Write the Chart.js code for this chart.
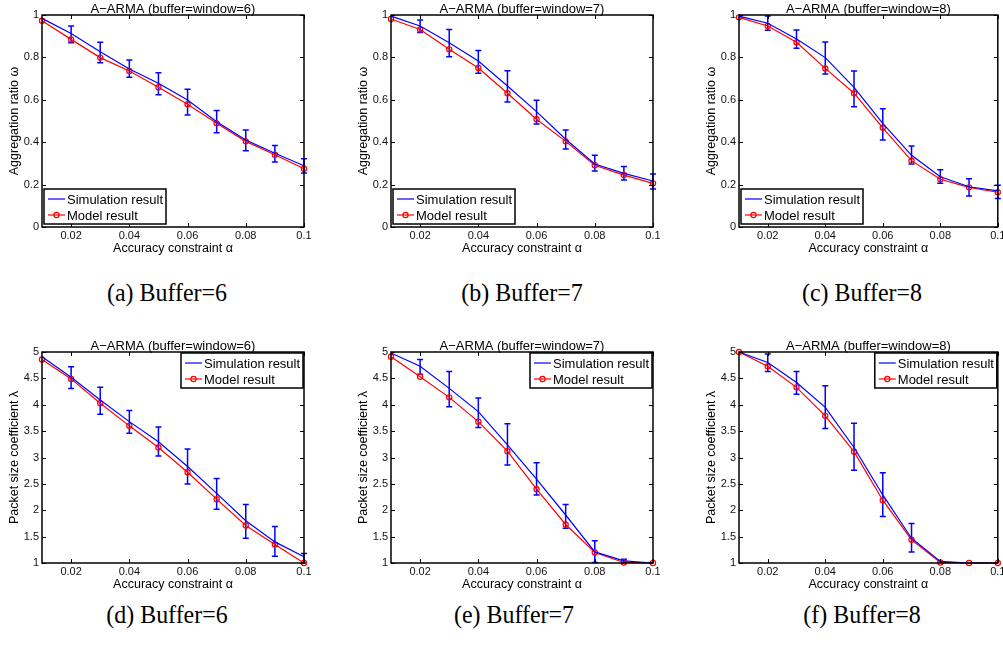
<!DOCTYPE html>
<html>
<head>
<meta charset="utf-8">
<script src="https://cdn.jsdelivr.net/npm/chart.js@4.4.0/dist/chart.umd.min.js"></script>
<style>
body{margin:0;background:#fff;width:1003px;height:648px;overflow:hidden;position:relative}
canvas{position:absolute}
.cap{position:absolute;font-family:"Liberation Serif",serif;font-size:26px;color:#000;white-space:nowrap;transform:translate(-50%,-50%) scaleX(0.92)}
</style>
</head>
<body>
<canvas id="c0"></canvas><canvas id="c1"></canvas><canvas id="c2"></canvas>
<canvas id="c3"></canvas><canvas id="c4"></canvas><canvas id="c5"></canvas>
<div class="cap" style="left:167px;top:293px">(a) Buffer=6</div>
<div class="cap" style="left:522px;top:293px">(b) Buffer=7</div>
<div class="cap" style="left:862px;top:293px">(c) Buffer=8</div>
<div class="cap" style="left:167px;top:615px">(d) Buffer=6</div>
<div class="cap" style="left:514px;top:615px">(e) Buffer=7</div>
<div class="cap" style="left:862px;top:615px">(f) Buffer=8</div>
<script>
// accuracy constraint alpha (x axis)
const alphaVals = [0.01, 0.02, 0.03, 0.04, 0.05, 0.06, 0.07, 0.08, 0.09, 0.1];
const xTickVals = [0.02, 0.04, 0.06, 0.08, 0.1];
const omegaTicks = [0, 0.2, 0.4, 0.6, 0.8, 1];
const lambdaTicks = [1, 1.5, 2, 2.5, 3, 3.5, 4, 4.5, 5];

// aggregation ratio omega
const simOmega6 = [0.984, 0.913, 0.827, 0.745, 0.678, 0.599, 0.497, 0.410, 0.348, 0.289];
const modelOmega6 = [0.973, 0.885, 0.799, 0.736, 0.659, 0.579, 0.489, 0.404, 0.341, 0.275];
const hiOmega6 = [null, 0.948, 0.871, 0.788, 0.728, 0.650, 0.549, 0.458, 0.385, 0.322];
const loOmega6 = [null, 0.869, 0.775, 0.706, 0.624, 0.528, 0.445, 0.360, 0.307, 0.255];

const simOmega7 = [0.995, 0.948, 0.869, 0.783, 0.665, 0.544, 0.414, 0.297, 0.253, 0.217];
const modelOmega7 = [0.981, 0.932, 0.838, 0.750, 0.631, 0.508, 0.404, 0.291, 0.245, 0.206];
const hiOmega7 = [null, 0.976, 0.932, 0.832, 0.737, 0.598, 0.458, 0.338, 0.285, 0.250];
const loOmega7 = [null, 0.918, 0.803, 0.725, 0.590, 0.486, 0.368, 0.264, 0.222, 0.179];

const simOmega8 = [0.995, 0.961, 0.887, 0.799, 0.659, 0.489, 0.338, 0.237, 0.190, 0.170];
const modelOmega8 = [0.989, 0.948, 0.871, 0.748, 0.631, 0.468, 0.313, 0.225, 0.187, 0.164];
const hiOmega8 = [null, 0.995, 0.929, 0.873, 0.736, 0.558, 0.382, 0.270, 0.228, 0.197];
const loOmega8 = [null, 0.928, 0.843, 0.722, 0.567, 0.410, 0.297, 0.206, 0.146, 0.135];

// packet size coefficient lambda
const simLambda6 = [4.91, 4.52, 4.09, 3.68, 3.30, 2.83, 2.32, 1.80, 1.40, 1.12];
const modelLambda6 = [4.86, 4.49, 4.03, 3.60, 3.19, 2.72, 2.21, 1.71, 1.35, 1.00];
const hiLambda6 = [null, 4.72, 4.33, 3.89, 3.58, 3.16, 2.60, 2.11, 1.69, 1.18];
const loLambda6 = [null, 4.31, 3.82, 3.46, 3.03, 2.50, 2.02, 1.47, 1.13, 1.00];

const simLambda7 = [4.98, 4.73, 4.31, 3.87, 3.24, 2.59, 1.91, 1.21, 1.04, 1.00];
const modelLambda7 = [4.91, 4.53, 4.14, 3.68, 3.12, 2.40, 1.73, 1.20, 1.01, 1.00];
const hiLambda7 = [null, 4.86, 4.63, 4.13, 3.64, 2.90, 2.11, 1.42, 1.07, null];
const loLambda7 = [null, 4.58, 3.96, 3.57, 2.86, 2.29, 1.66, 1.01, 1.00, null];

const simLambda8 = [5.00, 4.80, 4.42, 3.95, 3.19, 2.29, 1.47, 1.03, 1.00, 1.00];
const modelLambda8 = [5.00, 4.73, 4.33, 3.79, 3.11, 2.19, 1.44, 1.01, 1.00, 1.00];
const hiLambda8 = [null, 4.96, 4.63, 4.36, 3.65, 2.71, 1.75, null, null, null];
const loLambda8 = [null, 4.63, 4.20, 3.55, 2.76, 1.88, 1.21, null, null, null];

const FONT = '"Liberation Sans", Arial, sans-serif';

const fmt = v => String(parseFloat(v.toFixed(2)));

// frame, inward ticks, title, axis labels, legend, error bars
const matlabLook = {
  id: 'matlabLook',
  beforeDatasetsDraw(chart, args, o) {
    const ctx = chart.ctx, x = chart.scales.x, y = chart.scales.y;
    ctx.save();
    ctx.strokeStyle = '#0000ff';
    ctx.lineWidth = 1.5;
    alphaVals.forEach((a, i) => {
      if (o.hi[i] == null) return;
      const px = x.getPixelForValue(a);
      const y1 = y.getPixelForValue(o.hi[i]), y2 = y.getPixelForValue(o.lo[i]);
      ctx.beginPath();
      ctx.moveTo(px, y1); ctx.lineTo(px, y2);
      ctx.moveTo(px - 3, y1); ctx.lineTo(px + 3, y1);
      ctx.moveTo(px - 3, y2); ctx.lineTo(px + 3, y2);
      ctx.stroke();
    });
    ctx.restore();
  },
  afterDraw(chart, args, o) {
    const ctx = chart.ctx, a = chart.chartArea, x = chart.scales.x, y = chart.scales.y;
    ctx.save();
    ctx.strokeStyle = '#000';
    ctx.lineWidth = 1;
    ctx.beginPath();
    xTickVals.forEach(v => {
      const px = Math.round(x.getPixelForValue(v)) + 0.5;
      ctx.moveTo(px, a.bottom); ctx.lineTo(px, a.bottom - 4);
      ctx.moveTo(px, a.top); ctx.lineTo(px, a.top + 4);
    });
    o.yTicks.forEach(v => {
      const py = Math.round(y.getPixelForValue(v)) + 0.5;
      ctx.moveTo(a.left, py); ctx.lineTo(a.left + 4, py);
      ctx.moveTo(a.right, py); ctx.lineTo(a.right - 4, py);
    });
    ctx.stroke();
    ctx.lineWidth = 1.5;
    ctx.strokeRect(a.left, a.top, a.right - a.left, a.bottom - a.top);

    ctx.fillStyle = '#000';
    ctx.textAlign = 'center';
    ctx.font = '13px ' + FONT;
    ctx.textBaseline = 'alphabetic';
    ctx.fillText(o.title, (a.left + a.right) / 2, a.top - 2);

    ctx.font = '12.5px ' + FONT;
    ctx.textBaseline = 'middle';
    ctx.fillText('Accuracy constraint \u03b1', (a.left + a.right) / 2, a.bottom + 22);
    ctx.save();
    ctx.translate(a.left - 27, (a.top + a.bottom) / 2);
    ctx.rotate(-Math.PI / 2);
    ctx.fillText(o.yTitle, 0, 0);
    ctx.restore();

    // legend box
    const bw = 122, bh = 35;
    const bx = o.legendTop ? a.right - bw - 1 : a.left + 2;
    const by = o.legendTop ? a.top + 1 : a.bottom - bh - 3;
    ctx.fillStyle = '#fff';
    ctx.fillRect(bx, by, bw, bh);
    ctx.lineWidth = 1.5;
    ctx.strokeStyle = '#000';
    ctx.strokeRect(bx, by, bw, bh);
    const rows = [
      {label: 'Simulation result', color: '#0000ff', marker: false},
      {label: 'Model result', color: '#ff0000', marker: true}
    ];
    ctx.font = '13px ' + FONT;
    ctx.textAlign = 'left';
    rows.forEach((r, i) => {
      const ry = by + 10 + i * 16;
      ctx.strokeStyle = r.color;
      ctx.lineWidth = 1.2;
      ctx.beginPath();
      ctx.moveTo(bx + 4, ry); ctx.lineTo(bx + 21, ry);
      ctx.stroke();
      if (r.marker) {
        ctx.beginPath();
        ctx.arc(bx + 12.5, ry, 2.6, 0, Math.PI * 2);
        ctx.stroke();
      }
      ctx.fillStyle = '#000';
      ctx.fillText(r.label, bx + 23, ry + 1);
    });
    ctx.restore();
  }
};

function makeChart(id, lay, sim, model, hi, lo, yMin, yMax, yTicks, yTitle, title, legendTop) {
  const cv = document.getElementById(id);
  cv.width = lay.w; cv.height = lay.h;
  cv.style.left = lay.left + 'px'; cv.style.top = lay.top + 'px';
  cv.style.width = lay.w + 'px'; cv.style.height = lay.h + 'px';
  return new Chart(cv.getContext('2d'), {
    type: 'line',
    data: {
      datasets: [{
        label: 'Simulation result',
        data: alphaVals.map((a, i) => ({x: a, y: sim[i]})),
        borderColor: '#0000ff',
        borderWidth: 1.2,
        pointRadius: 0,
        tension: 0,
        clip: false
      }, {
        label: 'Model result',
        data: alphaVals.map((a, i) => ({x: a, y: model[i]})),
        borderColor: '#ff0000',
        borderWidth: 1.2,
        pointRadius: 2.6,
        pointBorderWidth: 1.2,
        pointBorderColor: '#ff0000',
        pointBackgroundColor: 'rgba(0,0,0,0)',
        tension: 0,
        clip: false
      }]
    },
    options: {
      responsive: false,
      animation: false,
      devicePixelRatio: 1,
      layout: {padding: {left: 0, top: lay.plotT - lay.top, right: lay.w - (lay.plotR - lay.left), bottom: 0}},
      plugins: {
        legend: {display: false},
        tooltip: {enabled: false},
        matlabLook: {hi, lo, yTicks, yTitle, title, legendTop}
      },
      scales: {
        x: {
          type: 'linear', min: 0.01, max: 0.1,
          grid: {display: false, drawTicks: false}, border: {display: false},
          ticks: {font: {size: 11, family: FONT}, color: '#111', padding: 2, maxRotation: 0, autoSkip: false, callback: v => fmt(v)},
          afterBuildTicks: s => { s.ticks = xTickVals.map(v => ({value: v})); },
          afterFit: s => { s.height = lay.h - (lay.plotB - lay.top); s.paddingLeft = 0; s.paddingRight = 0; }
        },
        y: {
          type: 'linear', min: yMin, max: yMax,
          grid: {display: false, drawTicks: false}, border: {display: false},
          ticks: {font: {size: 11, family: FONT}, color: '#111', padding: 3, autoSkip: false, callback: v => fmt(v)},
          afterBuildTicks: s => { s.ticks = yTicks.map(v => ({value: v})); },
          afterFit: s => { s.width = lay.plotL - lay.left; s.paddingTop = 0; s.paddingBottom = 0; }
        }
      }
    },
    plugins: [matlabLook]
  });
}

const colLay = [
  {left: 0, w: 330, plotL: 42, plotR: 304},
  {left: 330, w: 330, plotL: 391, plotR: 653},
  {left: 660, w: 343, plotL: 739, plotR: 1002}
];
const rowLay = [
  {top: 0, h: 265, plotT: 15, plotB: 227},
  {top: 330, h: 265, plotT: 352, plotB: 563}
];
const lay = (c, r) => Object.assign({}, colLay[c], rowLay[r]);

const omegaLabel = 'Aggregation ratio \u03c9';
const lambdaLabel = 'Packet size coefficient \u03bb';

makeChart('c0', lay(0, 0), simOmega6, modelOmega6, hiOmega6, loOmega6, 0, 1, omegaTicks, omegaLabel, 'A\u2212ARMA (buffer=window=6)', false);
makeChart('c1', lay(1, 0), simOmega7, modelOmega7, hiOmega7, loOmega7, 0, 1, omegaTicks, omegaLabel, 'A\u2212ARMA (buffer=window=7)', false);
makeChart('c2', lay(2, 0), simOmega8, modelOmega8, hiOmega8, loOmega8, 0, 1, omegaTicks, omegaLabel, 'A\u2212ARMA (buffer=window=8)', false);
makeChart('c3', lay(0, 1), simLambda6, modelLambda6, hiLambda6, loLambda6, 1, 5, lambdaTicks, lambdaLabel, 'A\u2212ARMA (buffer=window=6)', true);
makeChart('c4', lay(1, 1), simLambda7, modelLambda7, hiLambda7, loLambda7, 1, 5, lambdaTicks, lambdaLabel, 'A\u2212ARMA (buffer=window=7)', true);
makeChart('c5', lay(2, 1), simLambda8, modelLambda8, hiLambda8, loLambda8, 1, 5, lambdaTicks, lambdaLabel, 'A\u2212ARMA (buffer=window=8)', true);
</script>
</body>
</html>
